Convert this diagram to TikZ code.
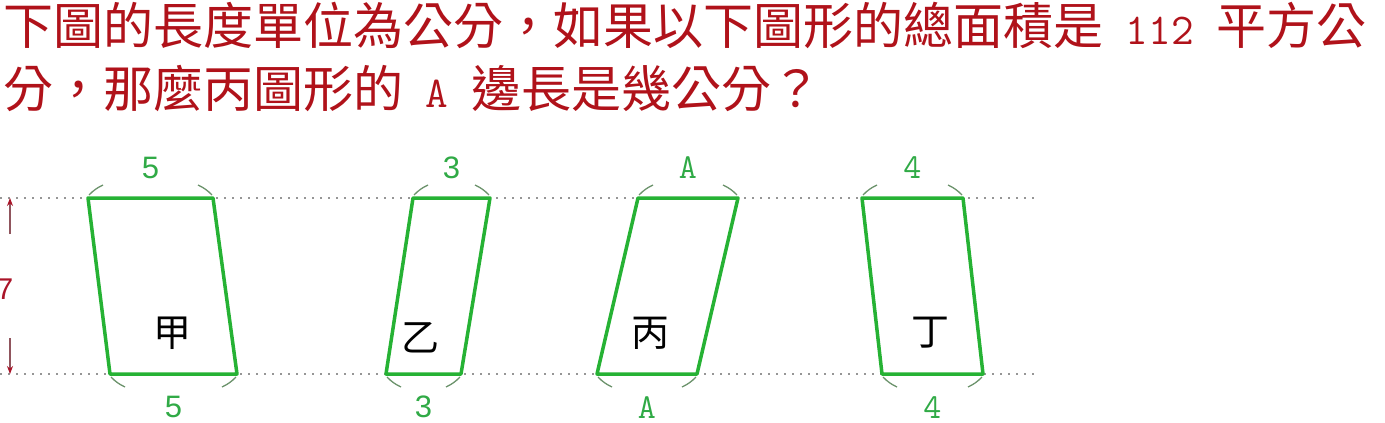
\documentclass[tikz,border=0pt]{standalone}
\usepackage{fontspec}
\setmainfont{Liberation Sans}
\newfontfamily\cjk{Noto Sans CJK TC}
\usetikzlibrary{arrows.meta,positioning}

\definecolor{titlered}{RGB}{176,18,26}
\definecolor{shapegreen}{RGB}{38,178,52}
\definecolor{labelgreen}{RGB}{48,170,70}
\definecolor{guidegray}{RGB}{150,150,150}
\definecolor{arrowred}{RGB}{170,20,40}

\begin{document}
\begin{tikzpicture}[x=1pt,y=-1pt,>=Stealth]
	\tikzstyle{qtext} = [inner sep=0pt, anchor=base west, text=titlered, font=\cjk\fontsize{50}{50}\selectfont]
	\tikzstyle{shapeside} = [draw=shapegreen, line width=3.5pt, line join=round]
	\tikzstyle{tickmark} = [draw=gray!85!green, line width=1.3pt]
	\tikzstyle{guideline} = [draw=guidegray, line width=1.2pt, dash pattern=on 1.5pt off 6.5pt]
	\tikzstyle{lenlabel} = [inner sep=0pt, text=labelgreen, font=\fontsize{31}{31}\selectfont]
	\tikzstyle{shapename} = [inner sep=0pt, font=\cjk\fontsize{38}{38}\selectfont]
	\tikzstyle{dimarrow} = [draw=gray!60!arrowred, line width=1.2pt, -{Stealth[color=arrowred, length=8pt, width=6pt]}]

	\useasboundingbox (0,0) rectangle (1385,423);

	% question
	\node [qtext] (title1) at (3,45) {下圖的長度單位為公分，如果以下圖形的總面積是{\ttfamily\fontsize{44}{44}\selectfont\ 112\ }平方公};
	\node [qtext, below=62pt of title1.base west, anchor=base west] (title2) {分，那麼丙圖形的{\ttfamily\fontsize{44}{44}\selectfont\ A\ }邊長是幾公分？};

	% guide lines
	\coordinate (top0) at (0,198);
	\coordinate (top1) at (1040,198);
	\coordinate (bot0) at (0,374);
	\coordinate (bot1) at (1040,374);
	\draw [guideline] (top0) -- (top1);
	\draw [guideline] (bot0) -- (bot1);

	% height 7
	\coordinate (up0) at (10,234);
	\coordinate (dn0) at (10,338);
	\coordinate (up1) at (10,198);
	\coordinate (dn1) at (10,374);
	\node [inner sep=0pt, text=arrowred, font=\fontsize{30}{30}\selectfont] (height) at (5,289) {7};
	\draw [dimarrow] (up0) -- (up1);
	\draw [dimarrow] (dn0) -- (dn1);

	% shapes
	\foreach \n/\tl/\tr/\br/\bl/\t in {jia/88/213/237/110/5, yi/413/490/461/386/3, bing/638/738/697/597/{\ttfamily\fontsize{35}{35}\selectfont A}, ding/862/963/983/882/{\ttfamily\fontsize{35}{35}\selectfont 4}} {
		\coordinate (\n-tl) at (\tl,198);
		\coordinate (\n-tr) at (\tr,198);
		\coordinate (\n-br) at (\br,374);
		\coordinate (\n-bl) at (\bl,374);
		\draw [shapeside] (\n-tl) -- (\n-tr) -- (\n-br) -- (\n-bl) -- cycle;
		\draw [tickmark] (\n-tl) ++(1,-3) to[bend left=10] ++(14,-10);
		\draw [tickmark] (\n-tr) ++(-1,-3) to[bend right=10] ++(-14,-10);
		\draw [tickmark] (\n-bl) ++(1,3) to[bend right=10] ++(14,10);
		\draw [tickmark] (\n-br) ++(-1,3) to[bend left=10] ++(-14,10);
		\path (\n-tl) -- node [lenlabel, above=19pt] (\n-top) {\t} (\n-tr);
		\path (\n-bl) -- node [lenlabel, below=22pt] (\n-bot) {\t} (\n-br);
	}

	\node [shapename] (jia) at (172,333) {甲};
	\node [shapename] (yi) at (420,338) {乙};
	\node [shapename] (bing) at (650,333) {丙};
	\node [shapename] (ding) at (930,333) {丁};
\end{tikzpicture}
\end{document}
